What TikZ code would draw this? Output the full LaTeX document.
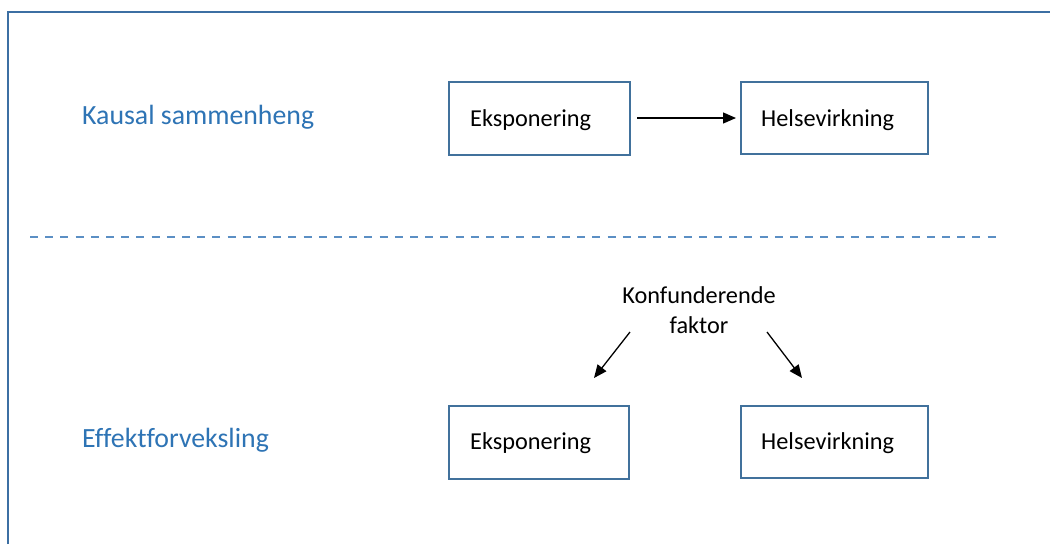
\documentclass[tikz,border=0pt]{standalone}
\usepackage{fontspec}
\setmainfont{Carlito}[Ligatures=CommonOff]
\usetikzlibrary{arrows.meta}
\definecolor{frameblue}{HTML}{3C6FA3}
\definecolor{boxblue}{HTML}{41719C}
\definecolor{headblue}{HTML}{2E74B5}
\definecolor{dashblue}{HTML}{5B8FC4}
\tikzset{
  flowbox/.style={draw=boxblue, line width=1.4pt},
  boxtext/.style={anchor=west, inner sep=0pt, font=\fontsize{24.3}{30}\selectfont},
  heading/.style={anchor=west, inner sep=0pt, text=headblue, font=\fontsize{27.8}{33}\selectfont},
  link/.style={line width=1.3pt, -{Triangle[length=13pt,width=11pt]}},
}
\begin{document}
\begin{tikzpicture}[x=1pt,y={(0pt,-1pt)}]
  \useasboundingbox (0,0) rectangle (1050,544);
  \fill[white] (0,0) rectangle (1050,544);
  % outer frame (left and top edges)
  \draw[frameblue, line width=2pt] (7.5,544) -- (7.5,12) -- (1050,12);

  % section headings
  \node[heading] (kausal) at (82,117.5) {Kausal sammenheng};
  \node[heading] (effekt) at (82,440.5) {Effektforveksling};

  % causal chain
  \draw[flowbox] (449,82) rectangle (630,155);
  \node[boxtext] (eks1t) at (470,120) {Eksponering};
  \draw[flowbox] (741,82) rectangle (928,154);
  \node[boxtext] (hel1t) at (761,120) {Helsevirkning};
  \coordinate (a1s) at (637,118);
  \coordinate (a1e) at (736,118);
  \draw[link] (a1s) -- (a1e);

  % separator
  \draw[dashblue, line width=1.6pt, dash pattern=on 8pt off 7.2pt] (30,237) -- (1002,237);

  % confounder
  \node[align=center, inner sep=0pt, font=\fontsize{24.3}{30}\selectfont] (konf) at (699,310) {Konfunderende\\faktor};
  \coordinate (l1) at (630,332);
  \coordinate (l2) at (594,378);
  \coordinate (r1) at (767,332);
  \coordinate (r2) at (802,378);
  \draw[link] (l1) -- (l2);
  \draw[link] (r1) -- (r2);

  \draw[flowbox] (449,406) rectangle (629,479);
  \node[boxtext] (eks2t) at (470,443) {Eksponering};
  \draw[flowbox] (741,406) rectangle (928,478);
  \node[boxtext] (hel2t) at (761,443) {Helsevirkning};
\end{tikzpicture}
\end{document}
